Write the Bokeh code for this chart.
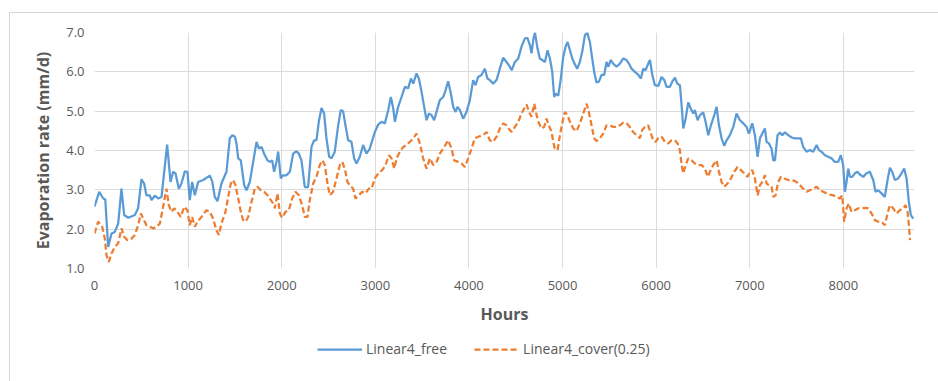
from bokeh.plotting import figure
from bokeh.layouts import column
from bokeh.models import (Range1d, FixedTicker, PrintfTickFormatter, Legend, LegendItem,
                          InlineStyleSheet)
from bokeh.embed import file_html
from bokeh.resources import INLINE

# ---- data ----
free_hours = [0, 50, 93, 115, 146, 182, 217, 253, 288, 317, 360, 431, 466, 502, 530, 555, 591, 609, 644, 680,
              716, 776, 812, 840, 865, 901, 929, 965, 993, 1018, 1043, 1072, 1107, 1161, 1232, 1257, 1285, 1314,
              1356, 1410, 1445, 1474, 1500, 1517, 1535, 1563, 1599, 1624, 1659, 1695, 1731, 1756, 1784, 1812,
              1848, 1873, 1898, 1919, 1944, 1962, 1990, 2015, 2051, 2087, 2122, 2158, 2183, 2211, 2247, 2282,
              2318, 2346, 2371, 2396, 2425, 2453, 2478, 2507, 2532, 2567, 2603, 2631, 2656, 2681, 2710, 2745,
              2774, 2799, 2834, 2870, 2905, 2941, 2960, 2995, 3031, 3066, 3102, 3138, 3166, 3191, 3209, 3244,
              3280, 3316, 3351, 3380, 3405, 3440, 3465, 3494, 3522, 3547, 3572, 3600, 3629, 3664, 3689, 3725,
              3750, 3778, 3807, 3832, 3857, 3878, 3903, 3939, 3974, 4010, 4045, 4070, 4099, 4134, 4170, 4198,
              4223, 4259, 4295, 4330, 4366, 4401, 4437, 4456, 4491, 4527, 4562, 4598, 4626, 4651, 4669, 4687,
              4705, 4733, 4758, 4783, 4812, 4840, 4865, 4890, 4911, 4929, 4954, 4982, 5007, 5032, 5054, 5079,
              5104, 5132, 5157, 5185, 5210, 5239, 5264, 5292, 5317, 5338, 5363, 5388, 5417, 5445, 5470, 5488,
              5516, 5541, 5577, 5613, 5648, 5684, 5709, 5737, 5773, 5808, 5837, 5862, 5887, 5915, 5934, 5959,
              5987, 6023, 6058, 6087, 6112, 6147, 6172, 6201, 6226, 6254, 6272, 6290, 6315, 6343, 6372, 6397,
              6414, 6443, 6468, 6503, 6528, 6557, 6585, 6621, 6646, 6671, 6699, 6728, 6753, 6788, 6824, 6859,
              6895, 6931, 6966, 6991, 7027, 7055, 7084, 7109, 7134, 7162, 7180, 7205, 7233, 7251, 7269, 7297,
              7322, 7347, 7376, 7411, 7447, 7482, 7518, 7546, 7571, 7607, 7642, 7678, 7714, 7739, 7767, 7803,
              7838, 7874, 7909, 7945, 7973, 7998, 8016, 8034, 8052, 8070, 8094, 8123, 8151, 8176, 8212, 8248,
              8283, 8319, 8344, 8372, 8408, 8443, 8472, 8497, 8522, 8550, 8586, 8621, 8650, 8675, 8700, 8721,
              8746]
free_values = [2.57, 2.95, 2.78, 2.76, 1.55, 1.89, 1.93, 2.14, 3.03, 2.36, 2.29, 2.36, 2.53, 3.27, 3.16, 2.86,
               2.86, 2.74, 2.85, 2.78, 2.82, 4.15, 3.2, 3.46, 3.42, 3.03, 3.16, 3.47, 3.46, 2.74, 3.2, 2.86, 3.2,
               3.25, 3.36, 3.22, 2.82, 2.71, 3.16, 3.46, 4.31, 4.39, 4.35, 4.18, 3.8, 3.75, 3.12, 2.99, 3.2, 3.71,
               4.22, 4.05, 4.09, 3.92, 3.75, 3.71, 3.75, 3.46, 3.71, 3.97, 3.29, 3.37, 3.37, 3.46, 3.92, 3.98,
               3.92, 3.75, 3.07, 3.07, 4.09, 4.26, 4.26, 4.73, 5.08, 4.94, 4.31, 3.84, 3.8, 3.97, 4.64, 5.03, 5.0,
               4.64, 4.26, 4.22, 3.8, 3.67, 3.84, 4.14, 3.92, 4.05, 4.2, 4.47, 4.66, 4.73, 4.69, 5.03, 5.36, 5.07,
               4.73, 5.11, 5.36, 5.62, 5.58, 5.83, 5.7, 5.96, 5.83, 5.49, 5.11, 4.77, 4.94, 4.9, 4.77, 5.07, 5.28,
               5.36, 5.53, 5.76, 5.45, 5.11, 4.98, 5.11, 5.03, 4.81, 4.98, 5.28, 5.79, 5.66, 5.87, 5.92, 6.08,
               5.83, 5.79, 5.7, 5.79, 6.08, 6.36, 6.25, 6.13, 6.04, 6.25, 6.34, 6.64, 6.85, 6.86, 6.68, 6.47, 6.81,
               7.0, 6.59, 6.34, 6.3, 6.25, 6.55, 6.34, 6.0, 5.36, 5.45, 5.39, 5.83, 6.38, 6.64, 6.76, 6.55, 6.34,
               6.19, 6.08, 6.25, 6.51, 6.93, 7.0, 6.76, 6.34, 6.0, 5.73, 5.75, 5.92, 5.92, 6.25, 6.13, 6.3, 6.21,
               6.13, 6.21, 6.34, 6.3, 6.21, 6.08, 6.0, 5.93, 5.83, 6.08, 6.04, 6.21, 6.3, 5.92, 5.66, 5.64, 5.87,
               5.79, 5.62, 5.62, 5.75, 5.85, 5.7, 5.66, 5.15, 4.56, 4.81, 5.22, 5.05, 4.94, 5.03, 4.77, 4.9, 4.97,
               4.73, 4.39, 4.64, 4.9, 5.11, 4.64, 4.31, 4.12, 4.26, 4.39, 4.6, 4.94, 4.77, 4.69, 4.6, 4.43, 4.69,
               4.39, 3.84, 4.31, 4.43, 4.56, 4.22, 4.18, 4.05, 3.75, 3.75, 4.39, 4.46, 4.39, 4.46, 4.39, 4.33,
               4.31, 4.31, 4.31, 4.09, 3.97, 4.01, 3.97, 4.14, 4.01, 3.97, 3.88, 3.84, 3.8, 3.71, 3.71, 3.88, 3.63,
               2.95, 3.2, 3.54, 3.33, 3.33, 3.42, 3.46, 3.39, 3.33, 3.42, 3.46, 3.25, 2.95, 2.99, 2.91, 2.82, 3.25,
               3.56, 3.46, 3.25, 3.29, 3.42, 3.54, 3.29, 2.69, 2.36, 2.27]

cover_hours = [0, 39, 82, 110, 128, 153, 182, 217, 253, 288, 317, 352, 395, 431, 466, 495, 520, 555, 591, 627,
               662, 698, 733, 769, 794, 822, 851, 886, 922, 958, 993, 1018, 1043, 1072, 1100, 1143, 1196, 1232,
               1267, 1303, 1328, 1356, 1399, 1428, 1456, 1481, 1506, 1535, 1563, 1588, 1613, 1642, 1677, 1713,
               1741, 1777, 1812, 1848, 1884, 1909, 1926, 1955, 1980, 2005, 2040, 2076, 2112, 2147, 2183, 2218,
               2247, 2275, 2300, 2336, 2371, 2407, 2435, 2460, 2489, 2514, 2549, 2585, 2621, 2646, 2674, 2702,
               2727, 2763, 2788, 2824, 2859, 2895, 2930, 2960, 2995, 3031, 3074, 3109, 3145, 3173, 3202, 3227,
               3262, 3298, 3333, 3369, 3405, 3440, 3476, 3511, 3547, 3583, 3618, 3654, 3689, 3736, 3778, 3814,
               3842, 3885, 3921, 3956, 3992, 4028, 4063, 4099, 4152, 4188, 4223, 4259, 4295, 4330, 4366, 4401,
               4437, 4456, 4491, 4527, 4562, 4598, 4616, 4641, 4669, 4698, 4723, 4748, 4776, 4804, 4829, 4854,
               4883, 4901, 4918, 4947, 4972, 5000, 5025, 5054, 5079, 5114, 5150, 5185, 5221, 5257, 5281, 5310,
               5338, 5363, 5399, 5435, 5470, 5506, 5541, 5577, 5613, 5648, 5684, 5719, 5755, 5791, 5826, 5851,
               5880, 5915, 5944, 5969, 5994, 6023, 6058, 6094, 6130, 6165, 6201, 6229, 6254, 6272, 6290, 6315,
               6343, 6379, 6414, 6450, 6486, 6521, 6550, 6575, 6610, 6646, 6671, 6699, 6728, 6763, 6799, 6834,
               6870, 6906, 6941, 6977, 7002, 7027, 7055, 7084, 7109, 7134, 7162, 7180, 7205, 7233, 7251, 7276,
               7304, 7333, 7368, 7411, 7454, 7500, 7536, 7571, 7607, 7642, 7678, 7714, 7749, 7785, 7820, 7856,
               7892, 7927, 7963, 7988, 8009, 8034, 8059, 8087, 8123, 8159, 8194, 8230, 8265, 8301, 8337, 8372,
               8408, 8443, 8472, 8497, 8532, 8568, 8603, 8639, 8664, 8686, 8700, 8712]
cover_values = [1.89, 2.19, 2.06, 1.76, 1.34, 1.17, 1.38, 1.55, 1.64, 2.02, 1.81, 1.72, 1.76, 1.85, 2.1, 2.4,
                2.27, 2.1, 2.06, 2.02, 2.06, 2.14, 2.57, 3.03, 2.61, 2.44, 2.53, 2.44, 2.31, 2.57, 2.48, 2.1, 2.31,
                2.06, 2.19, 2.31, 2.48, 2.44, 2.27, 1.97, 1.85, 2.14, 2.44, 2.82, 3.16, 3.25, 3.12, 2.78, 2.44,
                2.23, 2.19, 2.31, 2.69, 3.03, 3.08, 2.99, 2.95, 2.86, 2.74, 2.65, 2.53, 2.91, 2.4, 2.29, 2.44,
                2.48, 2.78, 2.95, 2.86, 2.61, 2.31, 2.31, 2.74, 3.16, 3.33, 3.63, 3.75, 3.63, 3.16, 2.86, 2.95,
                3.29, 3.63, 3.71, 3.54, 3.2, 3.12, 3.03, 2.78, 2.86, 2.95, 2.91, 3.03, 3.03, 3.29, 3.42, 3.5,
                3.63, 3.88, 3.8, 3.54, 3.8, 3.97, 4.09, 4.14, 4.22, 4.31, 4.43, 4.18, 3.8, 3.54, 3.8, 3.63, 3.71,
                3.92, 4.09, 4.26, 4.05, 3.75, 3.71, 3.67, 3.58, 3.8, 4.05, 4.31, 4.35, 4.39, 4.47, 4.26, 4.22,
                4.35, 4.56, 4.69, 4.64, 4.52, 4.47, 4.6, 4.73, 4.94, 5.11, 5.17, 4.98, 4.86, 5.19, 4.9, 4.69, 4.56,
                4.6, 4.81, 4.64, 4.47, 4.22, 4.05, 4.01, 4.39, 4.73, 4.98, 4.9, 4.73, 4.56, 4.49, 4.69, 4.94, 5.19,
                4.98, 4.64, 4.31, 4.24, 4.31, 4.43, 4.64, 4.64, 4.6, 4.6, 4.64, 4.71, 4.69, 4.6, 4.47, 4.39, 4.31,
                4.52, 4.6, 4.64, 4.43, 4.26, 4.22, 4.31, 4.35, 4.22, 4.18, 4.26, 4.26, 4.18, 4.01, 3.63, 3.42,
                3.63, 3.8, 3.75, 3.67, 3.63, 3.63, 3.54, 3.33, 3.46, 3.63, 3.75, 3.46, 3.2, 3.08, 3.16, 3.29, 3.46,
                3.58, 3.5, 3.42, 3.33, 3.46, 3.5, 3.29, 2.86, 3.12, 3.2, 3.37, 3.16, 3.12, 3.08, 2.82, 2.86, 3.2,
                3.33, 3.29, 3.25, 3.25, 3.2, 3.12, 3.03, 2.95, 2.99, 3.03, 3.08, 2.99, 2.95, 2.91, 2.88, 2.86,
                2.82, 2.78, 2.86, 2.19, 2.53, 2.65, 2.44, 2.48, 2.53, 2.53, 2.54, 2.53, 2.4, 2.23, 2.19, 2.19,
                2.1, 2.4, 2.61, 2.53, 2.4, 2.48, 2.53, 2.61, 2.44, 2.1, 1.72]

x_ticks = [0, 1000, 2000, 3000, 4000, 5000, 6000, 7000, 8000]
y_ticks = [1.0, 2.0, 3.0, 4.0, 5.0, 6.0, 7.0]
series_names = ["Linear4_free", "Linear4_cover(0.25)"]

FONT = "Open Sans"
TXT = "#595959"
BLUE = "#5b9bd5"
ORANGE = "#ed7d31"
DASH = "6 3"

# ---- main chart ----
p = figure(width=938, height=330, output_backend="svg", toolbar_location=None,
           x_range=Range1d(0, 8760), y_range=Range1d(1, 7),
           min_border_left=94, min_border_right=24, min_border_top=32, min_border_bottom=62)
p.outline_line_color = None
p.background_fill_color = "white"
p.border_fill_color = "white"

for ax in (p.xaxis[0], p.yaxis[0]):
    ax.axis_line_color = None
    ax.major_tick_line_color = None
    ax.minor_tick_line_color = None
    ax.major_tick_out = 0
    ax.major_tick_in = 0
    ax.major_label_text_font = FONT
    ax.major_label_text_font_size = "13px"
    ax.major_label_text_color = TXT
    ax.axis_label_text_font = FONT
    ax.axis_label_text_font_size = "16px"
    ax.axis_label_text_font_style = "bold"
    ax.axis_label_text_color = TXT

p.xaxis.ticker = FixedTicker(ticks=x_ticks)
p.yaxis.ticker = FixedTicker(ticks=y_ticks)
p.yaxis.formatter = PrintfTickFormatter(format="%.1f")
p.xaxis.axis_label = "Hours"
p.yaxis.axis_label = "Evaporation rate (mm/d)"
p.xaxis.major_label_standoff = 12
p.xaxis.axis_label_standoff = 10
p.yaxis.major_label_standoff = 10
p.yaxis.axis_label_standoff = 9

p.xgrid.grid_line_color = "#dcdcdc"
p.ygrid.grid_line_color = "#dcdcdc"

p.line(free_hours, free_values, line_color=BLUE, line_width=2.25)
p.line(cover_hours, cover_values, line_color=ORANGE, line_width=2.25, line_dash=DASH)

p.stylesheets = [InlineStyleSheet(css=""":host { position: relative; }
:host::after { content: ''; position: absolute; left: 9px; top: 12px; right: 0; bottom: 0;
  border-top: 1px solid #d4d4d4; border-left: 1px solid #d4d4d4; pointer-events: none; }""")]

# ---- legend strip below the chart (key renderers sit outside its view) ----
lg = figure(width=938, height=51, output_backend="svg", toolbar_location=None,
            x_range=Range1d(0, 1), y_range=Range1d(0, 1),
            min_border_left=0, min_border_right=0, min_border_top=0, min_border_bottom=0)
lg.axis.visible = False
lg.grid.visible = False
lg.outline_line_color = None
lg.background_fill_color = "white"
lg.border_fill_color = "white"
key_x = [-3, -2]
key_y = [-3, -3]
k1 = lg.line(x=key_x, y=key_y, line_color=BLUE, line_width=2.25)
k2 = lg.line(x=key_x, y=key_y, line_color=ORANGE, line_width=2.25, line_dash=DASH)
legend = Legend(items=[LegendItem(label=series_names[0], renderers=[k1]),
                       LegendItem(label=series_names[1], renderers=[k2])],
                orientation="horizontal", location=(223, 23),
                glyph_width=45, glyph_height=16, label_height=16, label_standoff=4, spacing=27,
                padding=0, margin=0, border_line_color=None, background_fill_alpha=0,
                label_text_font=FONT, label_text_font_size="14px", label_text_color=TXT)
lg.add_layout(legend, "center")
lg.stylesheets = [InlineStyleSheet(css=""":host { position: relative; }
:host::after { content: ''; position: absolute; left: 9px; top: 0; bottom: 0; width: 0;
  border-left: 1px solid #d4d4d4; pointer-events: none; }""")]

layout = column(p, lg, spacing=0)
open("out.html", "w").write(file_html(layout, INLINE))
